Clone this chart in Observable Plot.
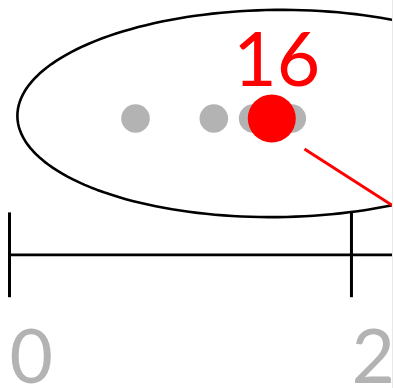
<!DOCTYPE html>
<html>
<head>
<meta charset="utf-8">
<script src="https://cdn.jsdelivr.net/npm/d3@7"></script>
<script src="https://cdn.jsdelivr.net/npm/@observablehq/plot@0.6"></script>
<style>
  html, body { margin: 0; padding: 0; background: #fff; }
  #chart { width: 392px; border-right: 1px solid #e8e8e8; overflow: hidden; }
  #chart svg { display: block; }
</style>
</head>
<body>
<div id="chart"></div>
<script>
// ---- data ----
const grayValues = [7.37, 11.95, 14.25, 16.51];   // background points
const highlightValue = 15.34;                        // highlighted point
const highlightLabel = "16";
const tickValues = [0, 20];
const tickLabels = ["0", "20"];

// ---- annotation geometry (data units) ----
const rowY = 0;            // row of the points
const axisY = -3.41;       // axis line
const tickTop = -2.36, tickBottom = -4.48;
const labelY = -6.6;
const lens = {cx: 15.61, cy: 0.125, a: 15.15, b: 2.59, angle: -0.6};
const pointer = {x1: 17.25, y1: -0.76, x2: 22.4, y2: -2.175};

const xDomain = [0, 22.4];
const yDomain = [-6.75, 2.95];
const W = 392, H = 388, ML = 9;
const kx = (W - ML) / (xDomain[1] - xDomain[0]);
const ky = H / (yDomain[1] - yDomain[0]);

// lens outline (ellipse, slight tilt)
const th = lens.angle * Math.PI / 180;
const lensPts = d3.range(0, 361, 2).map(deg => {
  const t = deg * Math.PI / 180;
  const u = lens.a * kx * Math.cos(t), v = lens.b * ky * Math.sin(t);
  const px = u * Math.cos(th) - v * Math.sin(th);
  const py = u * Math.sin(th) + v * Math.cos(th);
  return {x: lens.cx + px / kx, y: lens.cy - py / ky};
});

const ticks = tickValues.map((v, i) => ({v, label: tickLabels[i]}));

const chart = Plot.plot({
  width: W,
  height: H,
  marginLeft: ML,
  marginRight: 0,
  marginTop: 0,
  marginBottom: 0,
  x: {domain: xDomain, axis: null},
  y: {domain: yDomain, axis: null},
  style: {fontFamily: "Lato, 'Open Sans', sans-serif", background: "#fff", overflow: "hidden"},
  marks: [
    Plot.line(lensPts, {x: "x", y: "y", stroke: "#000", strokeWidth: 2.6, curve: "linear-closed"}),
    Plot.link([pointer], {x1: "x1", y1: "y1", x2: "x2", y2: "y2", stroke: "#ff0000", strokeWidth: 3}),
    Plot.ruleY([axisY], {x1: tickValues[0], x2: xDomain[1], stroke: "#000", strokeWidth: 2.7}),
    Plot.ruleX(ticks, {x: "v", y1: tickTop, y2: tickBottom, stroke: "#000", strokeWidth: 3}),
    Plot.text(ticks, {x: "v", y: labelY, text: "label", fill: "#b3b3b3", fontSize: 75, textAnchor: "start", lineAnchor: "bottom", dx: 0}),
    Plot.dot(grayValues, {x: d => d, y: rowY, r: 14.3, fill: "#b3b3b3", stroke: "none"}),
    Plot.dot([highlightValue], {x: d => d, y: rowY, r: 24, fill: "#ff0000", stroke: "none"}),
    Plot.text([highlightValue], {x: d => d, y: rowY, text: () => highlightLabel, fill: "#ff0000", fontSize: 75, textAnchor: "middle", lineAnchor: "bottom", dx: 5, dy: -33})
  ]
});
document.getElementById("chart").appendChild(chart);
</script>
</body>
</html>
